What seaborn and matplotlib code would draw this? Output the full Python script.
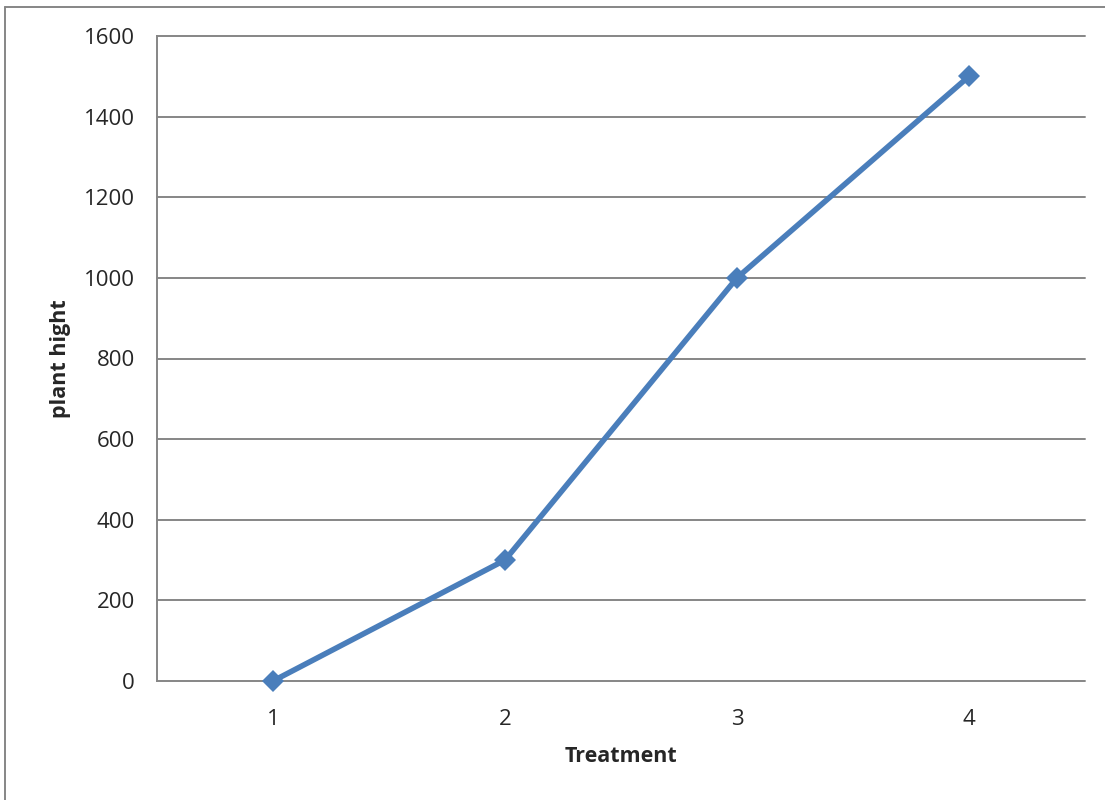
import matplotlib
matplotlib.use("Agg")
import matplotlib.pyplot as plt
import seaborn as sns
import pandas as pd

treatment = [1, 2, 3, 4]
plant_hight = [0, 300, 1000, 1500]
yticks = [0, 200, 400, 600, 800, 1000, 1200, 1400, 1600]

sns.set_style("white")
plt.rcParams['font.family'] = ['Open Sans', 'DejaVu Sans']

df = pd.DataFrame({"Treatment": treatment, "plant hight": plant_hight})

fig = plt.figure(figsize=(11.05, 8), dpi=100)
ax = fig.add_axes([157/1105, 119/800, 928/1105, 645/800])

for y in yticks:
    ax.axhline(y, color="#868686", lw=1.4, zorder=1)

sns.lineplot(data=df, x="Treatment", y="plant hight", ax=ax, color="#4A7EBB",
             lw=4, marker="D", markersize=11, markeredgewidth=0, zorder=3)
for ln in ax.lines:
    ln.set_clip_on(False)

ax.set_xlim(0.5, 4.5)
ax.set_ylim(0, 1600)
ax.set_xticks(treatment)
ax.set_xticklabels([str(t) for t in treatment])
ax.set_yticks(yticks)
ax.set_yticklabels([str(v) for v in yticks])
for s in ["top", "right", "bottom"]:
    ax.spines[s].set_visible(False)
ax.spines["left"].set_color("#868686")
ax.spines["left"].set_linewidth(1.4)
ax.tick_params(axis="y", length=8, width=1.4, color="#868686", labelsize=16, pad=8)
ax.tick_params(axis="x", length=0, labelsize=16, pad=20)
ax.set_xlabel("Treatment", fontsize=15.5, fontweight="bold", labelpad=12)
ax.set_ylabel("plant hight", fontsize=15.5, fontweight="bold", labelpad=9)

# outer chart border (left and top edges visible)
fig.add_artist(plt.Line2D([5/1105, 5/1105], [0, 1 - 7/800], color="#868686", lw=1.4, transform=fig.transFigure))
fig.add_artist(plt.Line2D([5/1105, 1], [1 - 7/800, 1 - 7/800], color="#868686", lw=1.4, transform=fig.transFigure))

fig.savefig("out.png", dpi=100)
